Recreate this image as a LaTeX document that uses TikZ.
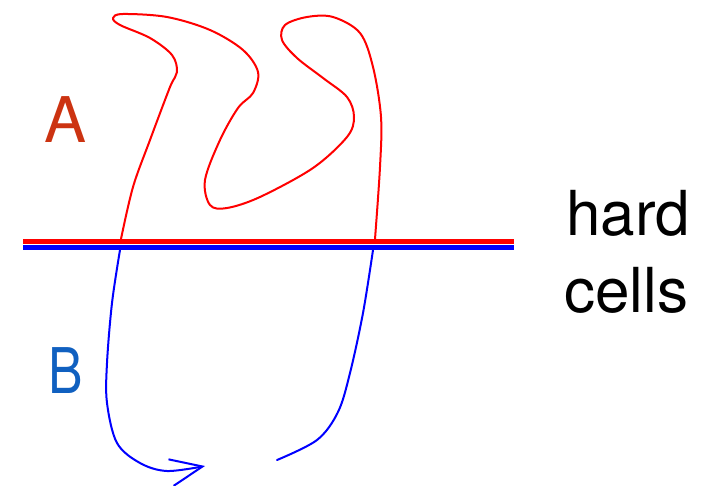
\documentclass[tikz,border=0pt]{standalone}
\usepackage{fontspec}
\setmainfont{TeX Gyre Heros}
\usetikzlibrary{arrows.meta}
\definecolor{labA}{RGB}{204,51,17}
\definecolor{labB}{RGB}{16,96,192}
\tikzset{
  redcurve/.style={draw={rgb,255:red,255;green,0;blue,0}, line width=2pt, line join=round, line cap=round},
  bluecurve/.style={draw={rgb,255:red,0;green,0;blue,255}, line width=2pt, line join=round, line cap=round},
  lbl/.style={inner sep=0pt, anchor=base, font=\fontsize{63}{63}\selectfont},
  word/.style={inner sep=0pt, anchor=base west, font=\fontsize{62}{62}\selectfont}
}
\begin{document}
\begin{tikzpicture}[x=1pt,y=-1pt]
\useasboundingbox (0,0) rectangle (711,486);
% hard cell boundary
\draw[draw={rgb,255:red,255;green,0;blue,0}, line width=4.8pt] (23,241.6) -- (514,241.6);
\draw[draw={rgb,255:red,0;green,0;blue,255}, line width=5pt] (23,247.6) -- (514,247.6);
% red curve
\draw[redcurve] plot[smooth, tension=0.55] coordinates {
 (121,239) (133,187) (150,140) (170,87) (177,72) (172,55) (150,38) (120,25)
 (113,18) (123,14) (167,17) (210,30) (243,50) (258,72) (253,93) (238,108)
 (220,140) (205,180) (210,205) (227,208) (260,197) (313,168) (347,137)
 (354,117) (347,97) (323,78) (297,58) (282,40) (285,25) (307,17) (333,17)
 (360,33) (373,67) (381,117) (380,167) (375,239)};
% blue curves
\draw[bluecurve, -{Straight Barb[length=32pt, width=27pt, line width=2pt]}] plot[smooth, tension=0.55] coordinates {
 (120,250) (112,303) (107,363) (107,403) (117,443) (140,463) (167,471) (205,466)};
\draw[bluecurve] plot[smooth, tension=0.55] coordinates {
 (373,250) (363,313) (350,373) (338,412) (317,440) (277,460)};
% labels
\node[lbl, text=labA] (A) at (66,143) {A};
\node[lbl, text=labB] (B) at (66,393) {\scalebox{0.82}[1]{B}};
\node[word] (hard) at (566,236) {hard};
\node[word] (cells) at (564,312) {cells};
\end{tikzpicture}
\end{document}
